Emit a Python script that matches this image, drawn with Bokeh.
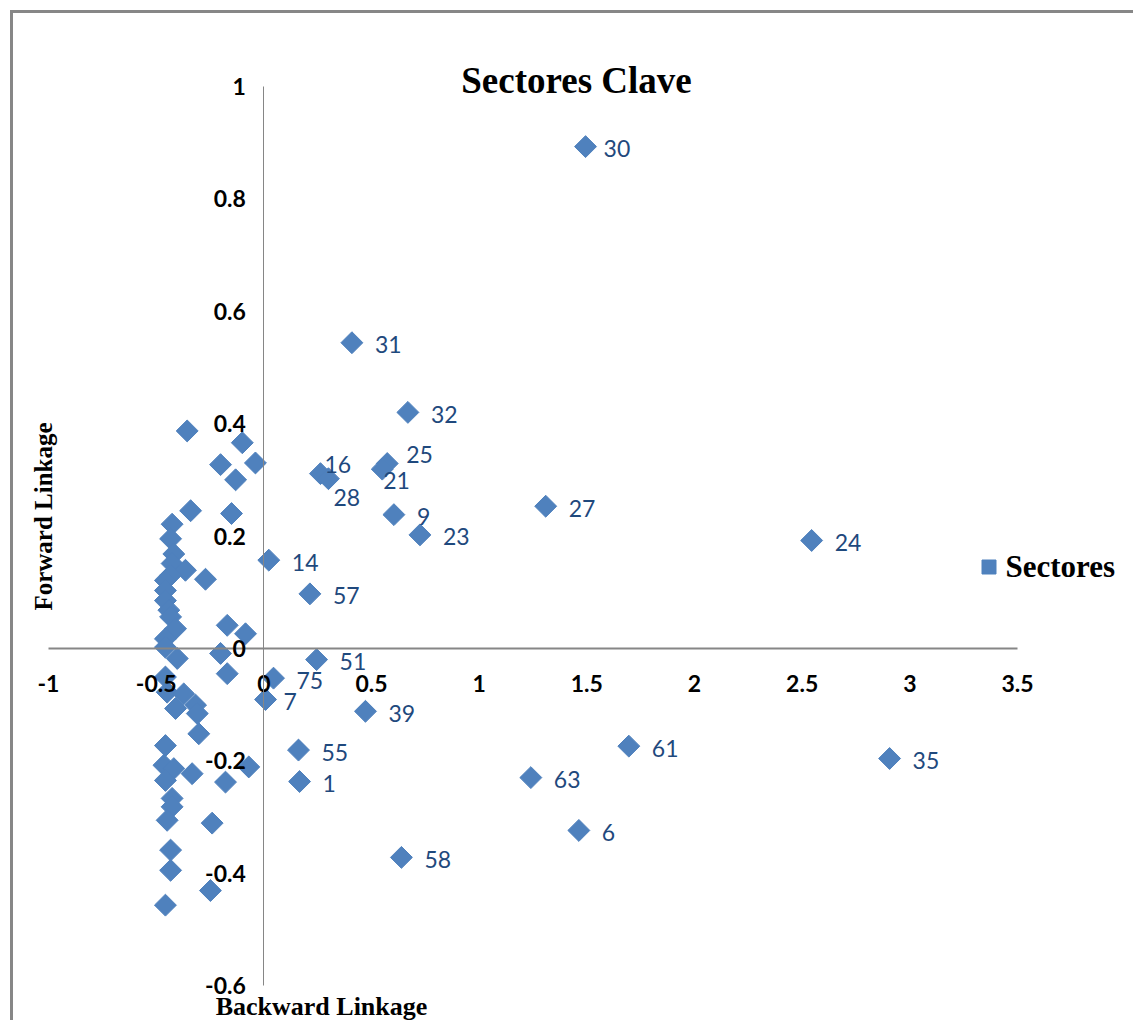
import numpy as np
from bokeh.plotting import figure
from bokeh.models import Range1d, FixedTicker, Label, Legend, LegendItem, ColumnDataSource, BoxAnnotation
from bokeh.embed import file_html
from bokeh.resources import INLINE
from bokeh.core.properties import value

# ---------------- data ----------------
sector_labels = ["30", "31", "32", "25", "21", "16", "28", "9", "23", "27", "24", "14",
                 "57", "51", "75", "7", "39", "55", "1", "61", "63", "35", "6", "58"]
labeled_backward = [1.494, 0.409, 0.669, 0.573, 0.550, 0.263, 0.300, 0.604, 0.725, 1.309, 2.544, 0.023,
                    0.214, 0.245, 0.045, 0.008, 0.472, 0.161, 0.166, 1.695, 1.240, 2.906, 1.463, 0.639]
labeled_forward = [0.893, 0.544, 0.420, 0.329, 0.319, 0.311, 0.302, 0.238, 0.202, 0.253, 0.192, 0.157,
                   0.097, -0.020, -0.053, -0.091, -0.112, -0.181, -0.237, -0.174, -0.230, -0.196, -0.324, -0.372]

other_backward = [-0.356, -0.100, -0.039, -0.201, -0.131, -0.340, -0.150, -0.426, -0.433, -0.418,
                  -0.426, -0.364, -0.433, -0.271, -0.457, -0.457, -0.457, -0.441, -0.433, -0.410,
                  -0.170, -0.085, -0.457, -0.457, -0.402, -0.201, -0.170, -0.457, -0.449, -0.372,
                  -0.410, -0.317, -0.309, -0.302, -0.457, -0.464, -0.418, -0.333, -0.457, -0.070,
                  -0.178, -0.426, -0.426, -0.449, -0.240, -0.433, -0.433, -0.248, -0.457]
other_forward = [0.387, 0.366, 0.330, 0.327, 0.300, 0.245, 0.240, 0.221, 0.195, 0.168,
                 0.151, 0.139, 0.130, 0.123, 0.121, 0.103, 0.085, 0.068, 0.056, 0.035,
                 0.041, 0.026, 0.017, 0.002, -0.018, -0.009, -0.045, -0.051, -0.078, -0.081,
                 -0.107, -0.101, -0.116, -0.152, -0.173, -0.208, -0.214, -0.223, -0.235, -0.211,
                 -0.238, -0.267, -0.282, -0.306, -0.311, -0.359, -0.395, -0.431, -0.457]

x_ticks = [-1, -0.5, 0, 0.5, 1, 1.5, 2, 2.5, 3, 3.5]
x_tick_labels = ["-1", "-0.5", "0", "0.5", "1", "1.5", "2", "2.5", "3", "3.5"]
y_ticks = [-0.6, -0.4, -0.2, 0, 0.2, 0.4, 0.6, 0.8, 1]
y_tick_labels = ["-0.6", "-0.4", "-0.2", "0", "0.2", "0.4", "0.6", "0.8", "1"]

title_text = "Sectores Clave"
series_name = "Sectores"
x_title = "Backward Linkage"
y_title = "Forward Linkage"

# ---------------- layout / styles ----------------
W, H = 1133, 1020
# pixel positions of the axis extremes inside the canvas
PX_LEFT, PX_RIGHT = 48.0, 1017.0
PX_TOP, PX_BOTTOM = 86.0, 985.0
sx = (PX_RIGHT - PX_LEFT) / (x_ticks[-1] - x_ticks[0])
sy = (PX_BOTTOM - PX_TOP) / (y_ticks[-1] - y_ticks[0])
x0 = x_ticks[0] - PX_LEFT / sx
x1 = x_ticks[-1] + (W - PX_RIGHT) / sx
y1 = y_ticks[-1] + PX_TOP / sy
y0 = y_ticks[0] - (H - PX_BOTTOM) / sy


def px_to_x(px):
    return x_ticks[0] + (px - PX_LEFT) / sx


def py_to_y(py):
    return y_ticks[-1] - (py - PX_TOP) / sy


MARKER_COLOR = "#4F81BD"
LABEL_COLOR = "#1F497D"
AXIS_COLOR = "#868686"
BORDER_COLOR = "#878787"
default_nudge = (23, 2)
label_nudges = {"16": (4, -9), "28": (5, 19), "21": (1, 11), "25": (19, -9), "30": (18, 2), "7": (18, 2)}

p = figure(width=W, height=H, output_backend="svg", toolbar_location=None,
           x_range=Range1d(x0, x1), y_range=Range1d(y0, y1), min_border=0)
p.title.visible = False
p.outline_line_color = None
p.grid.visible = False
p.background_fill_color = "white"
p.border_fill_color = "white"

# outer chart-area border (only top and left are inside the picture)
p.add_layout(BoxAnnotation(left=px_to_x(9.5), right=px_to_x(12.5), top=py_to_y(9.5), bottom=None,
                           fill_color=BORDER_COLOR, fill_alpha=1, line_alpha=0))
p.add_layout(BoxAnnotation(left=px_to_x(9.5), right=None, top=py_to_y(9.5), bottom=py_to_y(12.5),
                           fill_color=BORDER_COLOR, fill_alpha=1, line_alpha=0))

tick_font = "Lato"
p.xaxis.fixed_location = 0
p.yaxis.fixed_location = 0
p.xaxis.bounds = (x_ticks[0], x_ticks[-1])
p.yaxis.bounds = (y_ticks[0], y_ticks[-1])
p.xaxis.ticker = FixedTicker(ticks=x_ticks)
p.yaxis.ticker = FixedTicker(ticks=y_ticks)
p.xaxis.major_label_overrides = dict(zip(x_ticks, x_tick_labels))
p.yaxis.major_label_overrides = dict(zip(y_ticks, y_tick_labels))
for ax in (p.xaxis[0], p.yaxis[0]):
    ax.major_tick_out = 0
    ax.major_tick_in = 0
    ax.minor_tick_out = 0
    ax.minor_tick_in = 0
    ax.axis_line_color = AXIS_COLOR
    ax.major_label_text_font = tick_font
    ax.major_label_text_font_style = "bold"
    ax.major_label_text_font_size = "23px"
    ax.major_label_text_color = "black"
p.xaxis.axis_line_width = 2
p.yaxis.axis_line_width = 1
p.xaxis.major_label_standoff = 27
p.yaxis.major_label_standoff = 18

all_x = labeled_backward + other_backward
all_y = labeled_forward + other_forward
src = ColumnDataSource(dict(x=all_x, y=all_y))
r = p.scatter("x", "y", source=src, marker="square", size=15.5, angle=np.pi / 4,
              fill_color=MARKER_COLOR, line_color=MARKER_COLOR, line_width=1)

dx = [label_nudges.get(s, default_nudge)[0] for s in sector_labels]
dy = [label_nudges.get(s, default_nudge)[1] for s in sector_labels]
lsrc = ColumnDataSource(dict(x=labeled_backward, y=labeled_forward, t=sector_labels, dx=dx, dy=dy))
p.text("x", "y", text="t", source=lsrc, x_offset="dx", y_offset="dy",
       text_font=value("Lato"), text_font_size="23px", text_color=LABEL_COLOR,
       text_align="left", text_baseline="middle")

# Titles
p.add_layout(Label(x=px_to_x(576), y=py_to_y(80), text=title_text, text_font="Liberation Serif",
                   text_font_style="bold", text_font_size="37px", text_align="center",
                   text_baseline="middle", text_color="black"))
p.add_layout(Label(x=px_to_x(43), y=py_to_y(516), text=y_title, angle=np.pi / 2,
                   text_font="Liberation Serif", text_font_style="bold", text_font_size="25px",
                   text_align="center", text_baseline="middle", text_color="black"))
p.add_layout(Label(x=px_to_x(321), y=py_to_y(1006), text=x_title, text_font="Liberation Serif",
                   text_font_style="bold", text_font_size="26px", text_align="center",
                   text_baseline="middle", text_color="black"))

legend = Legend(items=[LegendItem(label=series_name, renderers=[r])],
                location=(988 - 17.5, (H - 567) - 17.5),
                glyph_width=35, glyph_height=35, label_standoff=0, padding=0, margin=0, spacing=0,
                label_text_font="Liberation Serif", label_text_font_style="bold",
                label_text_font_size="31px", label_text_color="black", label_height=35,
                background_fill_alpha=0, border_line_alpha=0)
p.add_layout(legend)

open("out.html", "w").write(file_html(p, INLINE))
